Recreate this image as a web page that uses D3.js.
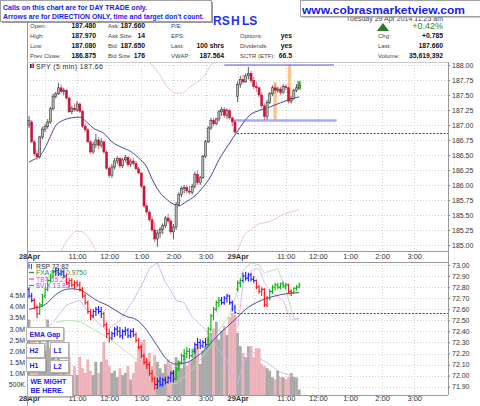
<!DOCTYPE html>
<html>
<head>
<meta charset="utf-8">
<script src="https://cdnjs.cloudflare.com/ajax/libs/d3/7.8.5/d3.min.js"></script>
<style>
  body { margin:0; background:#fff; }
  svg { display:block; font-family:"Liberation Sans", Arial, sans-serif; }
  .domain { display:none; }
</style>
</head>
<body>
<script>
// ---------------- data ----------------
// SPY 5-min candles, 28 Apr (78 bars) + 29 Apr up to 11:25 (24 bars)
var spyO = [187.00,187.05,186.72,186.52,186.47,186.80,186.93,186.98,187.05,187.27,
  187.48,187.52,187.62,187.56,187.58,187.45,187.22,187.28,187.25,187.35,
  187.23,186.98,186.92,186.72,186.55,186.68,186.75,186.66,186.72,186.55,
  186.28,186.16,186.30,186.40,186.44,186.32,186.42,186.46,186.34,186.40,
  186.36,186.27,186.20,185.98,185.65,185.55,185.42,185.25,185.10,185.20,
  185.26,185.32,185.45,185.40,185.22,185.30,185.68,185.84,185.94,185.96,
  185.90,185.88,185.98,186.18,186.04,186.12,186.48,186.72,186.95,187.08,
  187.02,187.10,187.22,187.26,187.16,187.24,187.12,187.05,
  187.48,187.68,187.76,187.72,187.82,187.86,187.74,187.64,187.62,187.50,
  187.32,187.14,187.38,187.52,187.62,187.58,187.60,187.54,187.64,187.62,
  187.40,187.44,187.58,187.62];
var spyH = [187.15,187.08,186.75,186.58,186.82,186.97,187.02,187.10,187.30,187.52,
  187.55,187.70,187.68,187.62,187.60,187.47,187.32,187.36,187.40,187.38,
  187.25,187.02,186.95,186.75,186.72,186.85,186.80,186.78,186.74,186.58,
  186.32,186.35,186.45,186.48,186.47,186.45,186.50,186.48,186.44,186.45,
  186.40,186.30,186.22,186.00,185.70,185.58,185.48,185.38,185.25,185.30,
  185.36,185.48,185.52,185.44,185.35,185.72,185.88,185.98,186.00,186.00,
  185.98,186.02,186.22,186.25,186.15,186.50,186.75,186.98,187.12,187.12,
  187.12,187.25,187.30,187.30,187.28,187.27,187.14,187.08,
  187.73,187.82,187.84,187.86,187.97,187.90,187.80,187.72,187.64,187.55,
  187.36,187.42,187.55,187.66,187.68,187.64,187.64,187.68,187.68,187.64,
  187.48,187.60,187.68,187.72];
var spyL = [186.95,186.70,186.48,186.42,186.44,186.76,186.88,186.94,187.02,187.24,
  187.44,187.50,187.52,187.50,187.42,187.20,187.18,187.22,187.22,187.20,
  186.95,186.88,186.70,186.52,186.52,186.62,186.60,186.62,186.52,186.25,
  186.12,186.12,186.26,186.35,186.28,186.28,186.38,186.30,186.30,186.32,
  186.24,186.18,185.95,185.62,185.50,185.38,185.22,185.04,184.97,185.12,
  185.18,185.28,185.36,185.18,185.10,185.25,185.65,185.80,185.86,185.86,
  185.84,185.84,185.94,186.00,186.00,186.10,186.45,186.70,186.92,186.98,
  187.00,187.06,187.15,187.12,187.10,187.08,186.98,186.86,
  187.38,187.62,187.68,187.70,187.76,187.70,187.60,187.55,187.46,187.28,
  187.08,187.09,187.35,187.48,187.54,187.54,187.50,187.52,187.58,187.36,
  187.36,187.42,187.55,187.60];
var spyC = [187.08,186.72,186.52,186.47,186.80,186.93,186.98,187.05,187.27,187.48,
  187.52,187.62,187.56,187.58,187.45,187.22,187.28,187.25,187.35,187.23,
  186.98,186.92,186.72,186.55,186.68,186.75,186.66,186.72,186.55,186.28,
  186.16,186.30,186.40,186.44,186.32,186.42,186.46,186.34,186.40,186.36,
  186.27,186.20,185.98,185.65,185.55,185.42,185.25,185.10,185.20,185.26,
  185.32,185.45,185.40,185.22,185.30,185.68,185.84,185.94,185.96,185.90,
  185.88,185.98,186.18,186.04,186.12,186.48,186.72,186.95,187.08,187.02,
  187.10,187.22,187.26,187.16,187.24,187.12,187.05,186.88,
  187.68,187.76,187.72,187.82,187.86,187.74,187.64,187.62,187.50,187.32,
  187.14,187.38,187.52,187.62,187.58,187.60,187.54,187.64,187.62,187.40,
  187.44,187.58,187.62,187.66];

// SPY moving average (bar index, value)
var spyEmaBar = [0,2,4,6,8,10,12,14,16,19,22,24,28,31,35,38,41,44,46,49,51,54,56,58,62,65,68,71,75,78,80,83,86,90,94,97,101];
var spyEma = [186.38,186.43,186.48,186.62,186.81,186.99,187.06,187.10,187.12,187.13,187.03,186.95,186.86,186.72,186.62,186.56,186.45,186.30,186.10,185.87,185.78,185.68,185.65,185.70,185.82,185.96,186.15,186.42,186.70,186.90,187.03,187.18,187.24,187.30,187.37,187.42,187.47];

// visible parts of the price bands
var bandUpBar = [44,49,52,55,57,60,64,66,68,70];
var bandUp = [188.10,187.83,187.62,187.53,187.53,187.63,187.75,187.85,188.00,188.12];
var bandLoBar1 = [12,15,18,20,23,25];
var bandLo1 = [184.90,185.12,185.23,185.22,185.07,184.90];
var bandLoBar2 = [78,80,83,86,89,92,95,98,101];
var bandLo2 = [184.90,185.13,185.26,185.35,185.38,185.43,185.51,185.55,185.59];

// SPY volume, millions
var vol = [3.4,3.0,2.6,2.2,2.8,1.8,2.0,3.4,2.1,1.9,
  1.6,2.4,1.5,1.4,1.2,1.7,0.8,1.3,0.9,1.7,
  1.2,1.0,1.6,1.1,0.9,1.5,1.0,1.5,2.4,1.6,
  1.3,1.0,1.1,0.8,1.2,0.9,1.0,1.3,0.7,1.0,
  1.5,2.2,2.4,2.5,1.6,1.9,1.3,1.8,1.5,1.2,
  1.0,1.4,1.6,1.4,1.1,1.7,1.5,1.2,1.8,1.3,
  1.5,1.6,2.1,2.3,1.4,2.0,2.2,2.6,2.8,3.0,
  3.3,2.5,2.9,3.1,2.7,3.5,3.7,3.6,
  2.8,2.2,1.9,1.7,2.2,2.2,1.7,2.1,2.1,1.4,
  1.3,1.2,1.1,0.8,0.7,1.1,0.8,0.8,0.7,0.8,
  1.0,0.8,0.8,0.25];

// RSP 5-min OHLC bars
var rspO = [72.78,72.72,72.68,72.62,72.56,72.64,72.72,72.78,72.86,72.90,
  72.94,72.95,72.92,72.94,72.90,72.84,72.86,72.82,72.84,72.82,
  72.78,72.72,72.66,72.58,72.54,72.58,72.60,72.58,72.56,72.46,
  72.38,72.34,72.38,72.42,72.40,72.36,72.40,72.41,72.36,72.40,
  72.37,72.32,72.26,72.18,72.12,72.10,72.02,71.97,71.92,71.95,
  71.92,71.96,71.94,71.98,72.02,71.97,72.06,72.12,72.18,72.20,
  72.22,72.18,72.22,72.28,72.30,72.27,72.30,72.28,72.42,72.54,
  72.60,72.66,72.68,72.66,72.70,72.72,72.66,72.62,
  72.78,72.84,72.86,72.90,72.88,72.91,72.87,72.86,72.80,72.76,
  72.78,72.64,72.70,72.76,72.80,72.82,72.80,72.83,72.81,72.82,
  72.76,72.75,72.79,72.80];
var rspH = [72.80,72.75,72.70,72.64,72.66,72.74,72.80,72.88,72.92,72.96,
  72.98,72.97,72.96,72.96,72.92,72.88,72.88,72.86,72.86,72.85,
  72.80,72.74,72.68,72.60,72.60,72.62,72.63,72.62,72.58,72.48,
  72.42,72.40,72.44,72.45,72.44,72.42,72.44,72.43,72.42,72.43,
  72.39,72.34,72.28,72.20,72.16,72.12,72.05,71.99,71.98,71.99,
  71.98,71.99,72.00,72.04,72.05,72.08,72.14,72.20,72.24,72.26,
  72.25,72.24,72.30,72.34,72.33,72.32,72.34,72.44,72.56,72.62,
  72.68,72.71,72.71,72.72,72.74,72.73,72.68,72.64,
  72.86,72.88,72.93,72.94,72.93,72.93,72.90,72.87,72.82,72.80,
  72.79,72.72,72.78,72.82,72.84,72.84,72.84,72.85,72.84,72.83,
  72.78,72.80,72.82,72.84];
var rspL = [72.70,72.66,72.60,72.52,72.55,72.62,72.70,72.76,72.84,72.88,
  72.90,72.90,72.90,72.88,72.82,72.80,72.80,72.78,72.80,72.76,
  72.70,72.64,72.56,72.50,72.52,72.54,72.56,72.52,72.44,72.34,
  72.30,72.32,72.35,72.36,72.34,72.33,72.36,72.34,72.34,72.35,
  72.30,72.24,72.16,72.10,72.06,72.00,71.94,71.87,71.88,71.90,
  71.90,71.92,71.93,71.94,71.94,71.96,72.04,72.10,72.14,72.16,
  72.15,72.16,72.20,72.24,72.24,72.25,72.26,72.27,72.40,72.50,
  72.58,72.62,72.64,72.64,72.66,72.64,72.58,72.56,
  72.76,72.80,72.84,72.86,72.85,72.85,72.84,72.78,72.74,72.72,
  72.62,72.62,72.68,72.74,72.77,72.78,72.78,72.79,72.78,72.74,
  72.72,72.74,72.77,72.79];
var rspC = [72.72,72.68,72.62,72.56,72.64,72.72,72.78,72.86,72.90,72.94,
  72.95,72.92,72.94,72.90,72.84,72.86,72.82,72.84,72.82,72.78,
  72.72,72.66,72.58,72.54,72.58,72.60,72.58,72.56,72.46,72.38,
  72.34,72.38,72.42,72.40,72.36,72.40,72.41,72.36,72.40,72.37,
  72.32,72.26,72.18,72.12,72.10,72.02,71.97,71.92,71.95,71.92,
  71.96,71.94,71.98,72.02,71.97,72.06,72.12,72.18,72.20,72.22,
  72.18,72.22,72.28,72.30,72.27,72.30,72.28,72.42,72.54,72.60,
  72.66,72.68,72.66,72.70,72.72,72.66,72.60,72.57,
  72.84,72.86,72.90,72.88,72.91,72.87,72.86,72.80,72.76,72.78,
  72.64,72.70,72.76,72.80,72.82,72.80,72.83,72.81,72.82,72.76,
  72.75,72.79,72.80,72.82];
// trend state of each RSP bar: g = up, r = down, b = neutral
var rspState = "bbrrggggggbbbbrrrrrrrrrrbbbbrrrbbbbbbbbbrrrrrrrrbbbbbbbgggggggbbbbbgggggbbbbbb" +
               "ggbbbbbrrrrrgggggggrrggg";

var rspEmaBar = [0,2,4,7,9,11,14,16,19,21,24,26,29,31,34,37,39,41,44,46,49,51,55,59,62,66,70,74,78,81,85,89,92,96,101];
var rspEma = [72.60,72.61,72.62,72.66,72.71,72.75,72.78,72.785,72.775,72.75,72.70,72.67,72.64,72.61,72.566,72.53,72.52,72.49,72.41,72.34,72.23,72.16,72.105,72.12,72.16,72.24,72.35,72.44,72.53,72.60,72.66,72.70,72.72,72.74,72.75];

// comparison overlays, read against the RSP price axis
var vixBar = [0,4,9,14,19,24,29,34,39,43,45,48,51,53,55,58,61,65,68,71,74,76,78,80,83,86,90,94,98,101];
var vixVal = [72.28,72.37,72.48,72.64,72.68,72.52,72.41,72.50,72.68,72.86,72.97,73.02,72.84,72.77,72.68,72.66,72.53,72.44,72.35,72.23,72.14,71.99,71.93,72.10,72.23,72.16,72.10,72.03,72.00,71.96];
var fxBar = [10,14,19,24,29,34,39,43,48,51,55,60,64,68,71,75,78,80,83,86,88,91,93,96,99,101];
var fxVal = [72.48,72.50,72.49,72.42,72.35,72.26,72.17,72.08,71.99,71.92,71.93,72.03,72.14,72.27,72.41,72.55,72.77,72.95,73.02,73.00,72.93,72.95,72.97,72.77,72.52,72.50];
var tbtBar = [78,80,83,86,88,90,92,95,98,101];
var tbtVal = [72.43,72.82,72.95,72.97,72.84,72.77,72.73,72.68,72.50,72.52];

// levels drawn on the chart
var spyPrevClose = 186.875, rspPrevClose = 72.566;
var resistance = {from:73, to:114, v:188.00};
var support = {from:76.3, to:115, v:187.075};
var highlightBars = [{bar:92, lo:187.08, hi:187.72}, {bar:97.4, lo:187.37, hi:188.00}];

// axes
var dayTickBars = [0,18,30,42,54,66,78,96,108,120,132,144];
var dayTickLabels = ["28Apr","11:00","12:00","1:00","2:00","3:00","29Apr","11:00","12:00","1:00","2:00","3:00"];
var gridBars = [6,18,30,42,54,66,78,84,96,108,120,132,144];
var spyTicks = [185,185.25,185.5,185.75,186,186.25,186.5,186.75,187,187.25,187.5,187.75,188];
var rspTicks = [71.9,72,72.1,72.2,72.3,72.4,72.5,72.6,72.7,72.8,72.9,73];
var volTicks = [0.5,1,1.5,2,2.5,3,3.5,4,4.5];

// header
var hdrLabels = [["Open:","High:","Low:","Prev Close:"],["Ask:","Ask Size:","Bid:","Bid Size:"],
  ["P/E:","EPS:","Last:","VWAP:"],["","Options:","Dividends:","SCTR (ETF):"],["","Chg:","Last:","Volume:"]];
var hdrValues = [["187.480","187.970","187.080","186.875"],["187.660","14","187.650","176"],
  ["","","100 shrs","187.564"],["","yes","yes","66.5"],["","+0.785","187.660","35,619,392"]];
var pctChange = "+0.42%";
var stamp = "Tuesday 29 Apr 2014 11:25 am";
var legendRows = [["RSP 72.82","#333"],["FXA:FXY 0.9750","#3f8f3f"],["TBT 65.27","#ff33ff"],["$VIX 13.85","#9955ff"]];
var notes = [{t:["EMA Gap"],x:26,y:327,w:37,h:13},{t:["H2"],x:26,y:343,w:18,h:14},{t:["L1"],x:50,y:342,w:18,h:15},
  {t:["H1"],x:26,y:358,w:19,h:13},{t:["L2"],x:50,y:360,w:18,h:12},{t:["WE MIGHT","BE HERE."],x:27,y:375,w:45,h:21}];

// ---------------- chart ----------------
var W = 480, H = 406;
var L = 27, R = 448, top0 = 62, top1 = 251, bot0 = 262, bot1 = 395;
var svg = d3.select('body').append('svg').attr('width', W).attr('height', H);

var x = d3.scaleLinear().domain([0,156]).range([29,446.3]);
var yTop = d3.scaleLinear().domain([185,188]).range([245,65]);
var yBot = d3.scaleLinear().domain([71.9,73]).range([386.7,265]);
var yVol = d3.scaleLinear().domain([0,4.5]).range([395.4,295.5]);

var defs = svg.append('defs');
defs.append('clipPath').attr('id','cTop').append('rect').attr('x',L).attr('y',top0).attr('width',R-L).attr('height',top1-top0);
defs.append('clipPath').attr('id','cBot').append('rect').attr('x',L).attr('y',bot0).attr('width',R-L).attr('height',bot1-bot0);

function grid(y, ticks, y0, y1) {
  var g = svg.append('g');
  g.selectAll('line.h').data(ticks).enter().append('line').attr('class','h')
    .attr('x1',L).attr('x2',R).attr('y1',d=>Math.round(y(d))+0.5).attr('y2',d=>Math.round(y(d))+0.5)
    .attr('stroke','#d4d4d4').attr('stroke-dasharray','1,2');
  g.selectAll('line.v').data(gridBars).enter().append('line').attr('class','v')
    .attr('x1',d=>Math.round(x(d))+0.5).attr('x2',d=>Math.round(x(d))+0.5).attr('y1',y0).attr('y2',y1)
    .attr('stroke','#d4d4d4').attr('stroke-dasharray','1,2');
}
grid(yTop, spyTicks, top0, top1);
grid(yBot, rspTicks, bot0, bot1);

// frame lines
svg.append('line').attr('x1',L+0.5).attr('x2',L+0.5).attr('y1',21).attr('y2',bot1+11).attr('stroke','#999');
svg.append('line').attr('x1',R+0.5).attr('x2',R+0.5).attr('y1',top0).attr('y2',bot1).attr('stroke','#999');
[top0, top1, bot0, bot1].forEach(function(v){
  svg.append('line').attr('x1',L).attr('x2',R).attr('y1',v+0.5).attr('y2',v+0.5).attr('stroke', v==top0 ? '#ccc' : '#999');
});

// ---- top panel ----
var gt = svg.append('g').attr('clip-path','url(#cTop)');
var bandLine = d3.line().x(d=>x(d[0])).y(d=>yTop(d[1])).curve(d3.curveMonotoneX);
[[bandUpBar,bandUp],[bandLoBar1,bandLo1],[bandLoBar2,bandLo2]].forEach(function(b){
  gt.append('path').datum(b[0].map((v,i)=>[v,b[1][i]])).attr('d',bandLine)
    .attr('fill','none').attr('stroke','#f0c0c8').attr('stroke-width',0.9);
});

gt.selectAll('rect.hl').data(highlightBars).enter().append('rect').attr('class','hl')
  .attr('x',d=>x(d.bar)-1.7).attr('width',3.4).attr('y',d=>yTop(d.hi)).attr('height',d=>yTop(d.lo)-yTop(d.hi))
  .attr('fill','#f6b878').attr('opacity',0.8);

gt.append('line').attr('x1',x(support.from)).attr('x2',x(support.to)).attr('y1',yTop(support.v)).attr('y2',yTop(support.v))
  .attr('stroke','#a6acf4').attr('stroke-width',2.6);
gt.append('line').attr('x1',x(resistance.from)).attr('x2',x(resistance.to)).attr('y1',yTop(resistance.v)).attr('y2',yTop(resistance.v))
  .attr('stroke','#5555dd').attr('stroke-width',1.2);
gt.append('line').attr('x1',x(77.8)).attr('x2',R).attr('y1',Math.round(yTop(spyPrevClose))+0.5).attr('y2',Math.round(yTop(spyPrevClose))+0.5)
  .attr('stroke','#3333ff').attr('stroke-dasharray','2,1.5');

var emaLine = d3.line().x(d=>x(d[0])).y(d=>yTop(d[1])).curve(d3.curveMonotoneX);
gt.append('path').datum(spyEmaBar.map((b,i)=>[b,spyEma[i]])).attr('d',emaLine)
  .attr('fill','none').attr('stroke','#4848a8').attr('stroke-width',1);

var last = spyC.length - 1;
gt.append('rect').attr('x',x(last)-2).attr('width',4).attr('y',yTop(spyH[last])-1).attr('height',yTop(spyL[last])-yTop(spyH[last])+2)
  .attr('fill','#7fd36a');

var bw = 2.1;
var candles = gt.selectAll('g.c').data(spyC).enter().append('g').attr('class','c');
candles.append('line').attr('x1',(d,i)=>x(i)).attr('x2',(d,i)=>x(i))
  .attr('y1',(d,i)=>yTop(spyH[i])).attr('y2',(d,i)=>yTop(spyL[i]))
  .attr('stroke',(d,i)=>d>=spyO[i] ? '#333' : '#e0506e').attr('stroke-width',0.8);
candles.append('rect').attr('x',(d,i)=>x(i)-bw/2).attr('width',bw)
  .attr('y',(d,i)=>yTop(Math.max(d,spyO[i])))
  .attr('height',(d,i)=>Math.max(0.8,Math.abs(yTop(spyO[i])-yTop(d))))
  .attr('fill',(d,i)=>d>=spyO[i] ? '#b8b8b8' : '#cc1438')
  .attr('stroke',(d,i)=>d>=spyO[i] ? '#222' : '#cc1438').attr('stroke-width',0.5);

// ---- bottom panel ----
var gb = svg.append('g').attr('clip-path','url(#cBot)');
gb.selectAll('rect.v').data(vol).enter().append('rect').attr('class','v')
  .attr('x',(d,i)=>x(i)-1.1).attr('width',2.2).attr('y',d=>yVol(d)).attr('height',d=>yVol(0)-yVol(d))
  .attr('fill',(d,i)=>spyC[i]<spyO[i] ? '#f2b6be' : '#ababab')
  .attr('stroke',(d,i)=>spyC[i]<spyO[i] ? '#e295a0' : '#909090').attr('stroke-width',0.4);

var ovLine = d3.line().x(d=>x(d[0])).y(d=>yBot(d[1])).curve(d3.curveLinear);
[[vixBar,vixVal,'#cdb4f0'],[fxBar,fxVal,'#b5dcae'],[tbtBar,tbtVal,'#f4aee6']].forEach(function(s){
  gb.append('path').datum(s[0].map((b,i)=>[b,s[1][i]])).attr('d',ovLine)
    .attr('fill','none').attr('stroke',s[2]).attr('stroke-width',0.9);
});

gb.append('line').attr('x1',x(77.8)).attr('x2',R).attr('y1',Math.round(yBot(rspPrevClose))+0.5).attr('y2',Math.round(yBot(rspPrevClose))+0.5)
  .attr('stroke','#3333ff').attr('stroke-dasharray','2,1.5');

gb.append('path').datum(rspEmaBar.map((b,i)=>[b,rspEma[i]]))
  .attr('d',d3.line().x(d=>x(d[0])).y(d=>yBot(d[1])).curve(d3.curveMonotoneX))
  .attr('fill','none').attr('stroke','#4848a8').attr('stroke-width',1);

var stateColor = {g:'#00b400', r:'#ff1010', b:'#1a1aff'};
var bars = gb.selectAll('g.o').data(rspC).enter().append('g').attr('class','o')
  .attr('stroke',(d,i)=>stateColor[rspState[i]]).attr('stroke-width',1.1);
bars.append('line').attr('x1',(d,i)=>x(i)).attr('x2',(d,i)=>x(i)).attr('y1',(d,i)=>yBot(rspH[i])).attr('y2',(d,i)=>yBot(rspL[i]));
bars.append('line').attr('x1',(d,i)=>x(i)-1.3).attr('x2',(d,i)=>x(i)).attr('y1',(d,i)=>yBot(rspO[i])).attr('y2',(d,i)=>yBot(rspO[i]));
bars.append('line').attr('x1',(d,i)=>x(i)).attr('x2',(d,i)=>x(i)+1.3).attr('y1',d=>yBot(d)).attr('y2',d=>yBot(d));

// ---- axes ----
function styleAxis(g, size, bold) {
  g.selectAll('text').attr('font-size',size).attr('fill','#333')
    .attr('font-weight',(d,i)=>bold && (i==0 || i==6) ? 'bold' : 'normal');
  g.selectAll('.tick line').attr('stroke','#888');
}
var xa = d3.axisBottom(x).tickValues(dayTickBars).tickFormat((d,i)=>dayTickLabels[i]).tickSize(0).tickPadding(3);
styleAxis(svg.append('g').attr('transform','translate(0,'+top1+')').call(xa), 7.5, true);
styleAxis(svg.append('g').attr('transform','translate(0,'+bot1+')').call(xa.tickPadding(1)), 7.5, true);

styleAxis(svg.append('g').attr('transform','translate('+R+',0)')
  .call(d3.axisRight(yTop).tickValues(spyTicks).tickFormat(d3.format('.2f')).tickSize(2).tickPadding(2)), 7, false);
styleAxis(svg.append('g').attr('transform','translate('+R+',0)')
  .call(d3.axisRight(yBot).tickValues(rspTicks).tickFormat(d3.format('.2f')).tickSize(2).tickPadding(2)), 7, false);
styleAxis(svg.append('g').attr('transform','translate('+L+',0)')
  .call(d3.axisLeft(yVol).tickValues(volTicks).tickFormat(d=>d<1 ? '500K' : d.toFixed(1)+'M').tickSize(0).tickPadding(2)), 7, false);

// ---- legends ----
svg.append('rect').attr('x',30).attr('y',64).attr('width',1.6).attr('height',4).attr('fill','#222');
svg.append('rect').attr('x',32.4).attr('y',63.5).attr('width',1.6).attr('height',4.5).attr('fill','#cc1438');
svg.append('text').attr('x',36).attr('y',68.8).attr('font-size',7).attr('fill','#333').attr('letter-spacing',0.35).text('SPY (5 min) 187.66');

var lg = svg.append('g').selectAll('g').data(legendRows).enter().append('g')
  .attr('transform',(d,i)=>'translate(0,'+(268.5+i*6.5)+')');
lg.append('line').attr('x1',29).attr('x2',34).attr('y1',-2.5).attr('y2',-2.5).attr('stroke',(d,i)=>i==0 ? 'none' : d[1]).attr('stroke-width',1.3);
lg.append('text').attr('x',36).attr('font-size',6.8).attr('fill',d=>d[1]).text(d=>d[0]);
svg.append('line').attr('x1',29).attr('x2',29).attr('y1',263.5).attr('y2',268.5).attr('stroke','#1a1aff');
svg.append('line').attr('x1',31.5).attr('x2',31.5).attr('y1',264).attr('y2',269).attr('stroke','#ff1010');

// ---- note boxes ----
var nb = svg.append('g').selectAll('g').data(notes).enter().append('g');
nb.append('rect').attr('x',d=>d.x+1.5).attr('y',d=>d.y+1.5).attr('width',d=>d.w).attr('height',d=>d.h).attr('fill','#8a8a8a');
nb.append('rect').attr('x',d=>d.x+0.5).attr('y',d=>d.y+0.5).attr('width',d=>d.w).attr('height',d=>d.h).attr('fill','#fff').attr('stroke','#b0b0b0');
nb.each(function(d){
  var s = d3.select(this);
  d.t.forEach(function(t,k){
    s.append('text').attr('x',d.x+3.5).attr('y', d.t.length>1 ? d.y+8.5+k*9 : d.y+d.h/2+3)
      .attr('font-size',7).attr('font-weight','bold').attr('fill','#2222ee').text(t);
  });
});

// ---- header ----
svg.append('text').attr('x',443).attr('y',20.5).attr('text-anchor','end').attr('font-size',7).attr('fill','#444').text(stamp);
var colLabelX = [30,108,171,240,378], colValueX = [96,145,224,292,443];
hdrLabels.forEach(function(col,c){
  col.forEach(function(t,r){
    var yb = 28 + r*10;
    if (t) svg.append('text').attr('x',colLabelX[c]).attr('y',yb).attr('font-size',6).attr('fill','#444').text(t);
    var v = hdrValues[c][r];
    if (v) svg.append('text').attr('x',colValueX[c]).attr('y',yb).attr('text-anchor','end')
      .attr('font-size',6.8).attr('font-weight','bold').attr('fill','#111').text(v);
  });
});
svg.append('text').attr('x',443).attr('y',29).attr('text-anchor','end').attr('font-size',9).attr('fill','#2a8a2a').text(pctChange);
svg.append('path').attr('d','M383,23 L389,31 L377,31 Z').attr('fill','#2a7a2a');

// pattern marks above the chart
[["RS",213],["H",231],["LS",242]].forEach(function(p){
  svg.append('text').attr('x',p[1]).attr('y',25).attr('font-size',12).attr('font-weight','bold').attr('fill','#1f2ff0').text(p[0]);
});

// call-out boxes
svg.append('rect').attr('x',2).attr('y',2).attr('width',211).attr('height',21).attr('fill','#9a9a9a');
svg.append('rect').attr('x',0.5).attr('y',0.5).attr('width',211).attr('height',21).attr('fill','#fff').attr('stroke','#a0a0a0');
svg.append('text').attr('x',3).attr('y',10).attr('font-size',7).attr('font-weight','bold').attr('fill','#1a1aee')
  .text('Calls on this chart are for DAY TRADE only.');
svg.append('text').attr('x',3).attr('y',19).attr('font-size',7).attr('font-weight','bold').attr('fill','#1a1aee')
  .attr('textLength',201).attr('lengthAdjust','spacingAndGlyphs')
  .text("Arrows are for DIRECTION ONLY, time and target don't count.");

svg.append('rect').attr('x',302).attr('y',2).attr('width',180).attr('height',15.5).attr('fill','#9a9a9a');
svg.append('rect').attr('x',300.5).attr('y',0.5).attr('width',180).attr('height',16).attr('fill','#fff').attr('stroke','#a0a0a0');
svg.append('text').attr('x',302).attr('y',13.5).attr('font-size',11.5).attr('font-weight','bold').attr('fill','#1a1aee')
  .attr('textLength',163).attr('lengthAdjust','spacingAndGlyphs').text('www.cobrasmarketview.com');
</script>
</body>
</html>
